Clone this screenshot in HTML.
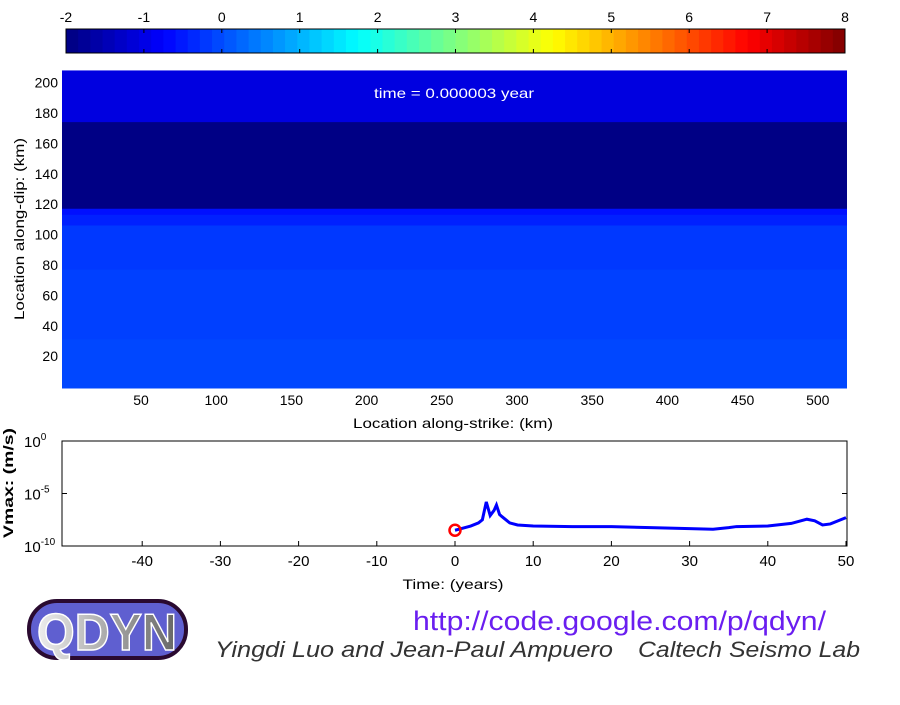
<!DOCTYPE html>
<html><head><meta charset="utf-8"><style>
body{margin:0;background:#fff;width:900px;height:700px;overflow:hidden;font-family:"Liberation Sans",sans-serif}
</style></head><body>
<svg id="s" width="900" height="700" xmlns="http://www.w3.org/2000/svg" font-family="Liberation Sans, sans-serif">
<defs>
<linearGradient id="lg" x1="0" x2="1"><stop offset="0" stop-color="#eee"/><stop offset="1" stop-color="#666"/></linearGradient>
</defs>
<g id="cbar"></g>
<g id="heat"></g>
<text x="454" y="98" fill="#fff" font-size="14" text-anchor="middle" textLength="160" lengthAdjust="spacingAndGlyphs">time = 0.000003 year</text>
<text x="453" y="428" font-size="14" text-anchor="middle" textLength="200" lengthAdjust="spacingAndGlyphs">Location along-strike: (km)</text>
<text transform="translate(24,229) rotate(-90)" font-size="14" text-anchor="middle" textLength="182" lengthAdjust="spacingAndGlyphs">Location along-dip: (km)</text>
<g id="vm">
<rect x="62" y="441" width="785" height="105" fill="none" stroke="#000"/>
</g>
<text x="453" y="589" font-size="14" text-anchor="middle" textLength="101" lengthAdjust="spacingAndGlyphs">Time: (years)</text>
<text transform="translate(13,483) rotate(-90)" font-size="14" font-weight="bold" text-anchor="middle" textLength="110" lengthAdjust="spacingAndGlyphs">Vmax: (m/s)</text>
<g>
<rect x="29" y="601" width="157" height="57" rx="28" fill="#5f5fd0" stroke="#2a0a30" stroke-width="4"/>
<text x="107" y="650" font-size="52" font-weight="bold" text-anchor="middle" fill="url(#lg)" stroke="#fff" stroke-width="1.5" textLength="140" lengthAdjust="spacingAndGlyphs">QDYN</text>
</g>
<text x="413" y="630" font-size="27" fill="#6a1ef0" textLength="413" lengthAdjust="spacingAndGlyphs">http://code.google.com/p/qdyn/</text>
<text x="215" y="657" font-size="22" font-style="italic" fill="#333" textLength="398" lengthAdjust="spacingAndGlyphs">Yingdi Luo and Jean-Paul Ampuero</text>
<text x="638" y="657" font-size="22" font-style="italic" fill="#333" textLength="222" lengthAdjust="spacingAndGlyphs">Caltech Seismo Lab</text>
</svg>
<script>
const NS="http://www.w3.org/2000/svg";
const cbTicks=[-2,-1,0,1,2,3,4,5,6,7,8];
const bandTops=[208,174,117,113,106,77,31];
const bandBottoms=[174,117,113,106,77,31,-2];
const bandValues=[-1.05,-1.95,-0.6,-0.44,-0.2,-0.125,-0.05];
const xTicks=[50,100,150,200,250,300,350,400,450,500];
const yTicks=[20,40,60,80,100,120,140,160,180,200];
const tTicks=[-40,-30,-20,-10,0,10,20,30,40,50];
const vTickExp=[0,-5,-10];
const tYears=[0,1,2,3,3.5,4,4.5,5,5.3,5.7,6,7,8,10,15,20,25,30,33,35,36,40,43,45,46,47,48,50];
const logV=[-8.5,-8.3,-8.1,-7.8,-7.5,-5.8,-7.1,-6.6,-6.1,-7.0,-7.2,-7.8,-8.0,-8.1,-8.15,-8.15,-8.25,-8.35,-8.4,-8.25,-8.15,-8.1,-7.85,-7.45,-7.6,-8.0,-7.9,-7.3];
function mk(t,a,p){const e=document.createElementNS(NS,t);for(const k in a)e.setAttribute(k,a[k]);(p||document.getElementById('s')).appendChild(e);return e;}
function jet(v){let f=(v+2)/10;const c=x=>Math.max(0,Math.min(1,x));
 const r=c(Math.min(4*f-1.5,-4*f+4.5)),g=c(Math.min(4*f-0.5,-4*f+3.5)),b=c(Math.min(4*f+0.5,-4*f+2.5));
 return `rgb(${Math.round(r*255)},${Math.round(g*255)},${Math.round(b*255)})`;}
const cbX=v=>66+(v+2)*77.9;
const hx=k=>65.8+k*1.504, hy=k=>386.6-k*1.52;
const tx=t=>455+t*7.82, vy=l=>546-(l+10)*10.5;
const cb=document.getElementById('cbar'),heat=document.getElementById('heat'),vm=document.getElementById('vm');
for(let i=0;i<64;i++){
 const v=-2+10*(i+0.5)/64;
 mk('rect',{x:cbX(-2+10*i/64),y:29,width:779/64+0.5,height:24,fill:jet(v)},cb);
}
mk('rect',{x:66,y:29,width:779,height:24,fill:'none',stroke:'#000'},cb);
for(const t of cbTicks){
 mk('line',{x1:cbX(t),x2:cbX(t),y1:29,y2:33,stroke:'#000'},cb);
 let l=mk('line',{x1:cbX(t),x2:cbX(t),y1:49,y2:53,stroke:'#000'},cb);
 
 
 let tt=mk('text',{x:cbX(t),y:22,'font-size':14,'text-anchor':'middle'},cb);tt.textContent=t;
 
 
}
bandTops.forEach((top,i)=>{
 let y1=Math.max(hy(top),69),y2=Math.min(hy(bandBottoms[i]),388);
 let r=mk('rect',{x:62,y:y1,width:785,height:y2-y1+0.5,fill:jet(bandValues[i])},heat);
 
 
});
for(const k of xTicks){let t=mk('text',{x:hx(k),y:405,'font-size':14,'text-anchor':'middle'});t.textContent=k;
 
 }
for(const k of yTicks){let t=mk('text',{x:58,y:hy(k)+5,'font-size':14,'text-anchor':'end'});t.textContent=k;
 
 }
for(const t of tTicks){
 mk('line',{x1:tx(t),x2:tx(t),y1:546,y2:541,stroke:'#000'},vm);
 let e=mk('text',{x:tx(t),y:566,'font-size':15,'text-anchor':'middle'});e.textContent=t;
 
 
}
for(const p of vTickExp){
 mk('line',{x1:62,x2:67,y1:vy(p),y2:vy(p),stroke:'#000'},vm);
 mk('line',{x1:842,x2:847,y1:vy(p),y2:vy(p),stroke:'#000'},vm);
 let e=mk('text',{x:24,y:vy(p)+6,'font-size':15});e.innerHTML='10<tspan dy="-7" font-size="10">'+p+'</tspan>';
 
 
}
let line=mk('polyline',{points:tYears.map((t,i)=>tx(t)+','+vy(logV[i])).join(' '),fill:'none',stroke:'#0000ff','stroke-width':3},vm);


let c=mk('circle',{cx:tx(tYears[0]),cy:vy(logV[0]),r:5.5,fill:'none',stroke:'#ff0000','stroke-width':2.5},vm);


</script>
</body></html>
